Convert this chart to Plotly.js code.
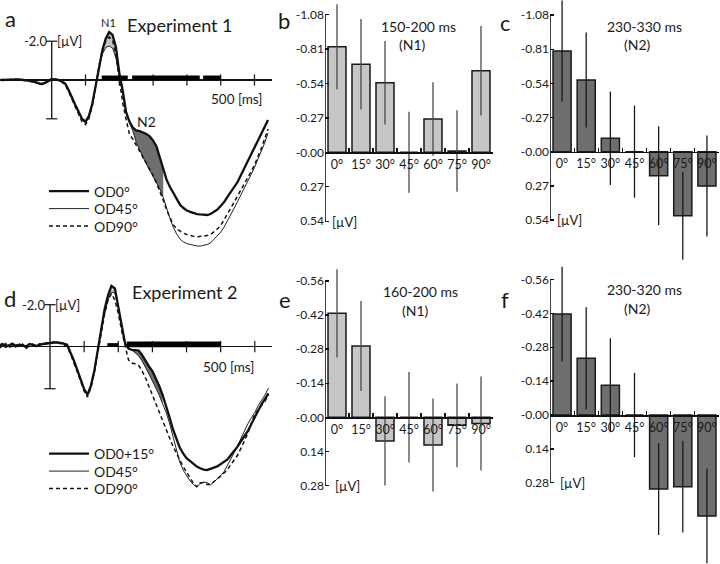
<!DOCTYPE html>
<html><head><meta charset="utf-8">
<script src="https://cdn.plot.ly/plotly-3.0.1.min.js"></script>
<style>html,body{margin:0;padding:0;background:#fff}#chart{width:720px;height:564px}</style>
</head><body><div id="chart"></div>
<script>
// ---------------- DATA ----------------
const time = [-150,-140,-130,-120,-110,-100,-90,-80,-70,-60,
  -50,-40,-30,-20,-10,0,10,20,30,40,
  50,60,70,80,90,100,110,120,130,140,
  150,160,170,180,190,200,210,220,230,240,
  250,260,270,280,290,300,310,320,330,340,
  350,360,370,380,390,400,410,420,430,440,
  450,460,470,480,490,500,510,520,530,540,
  550,560,570,580,590,600,610,620,630,640];

// Experiment 1 grand averages (µV, negative up)
const exp1OD0 = [0.00,-0.01,-0.02,-0.03,-0.03,-0.03,-0.02,0.00,0.03,0.05,
  0.10,0.17,0.21,0.15,0.08,-0.03,-0.03,0.00,0.08,0.18,
  0.52,0.93,1.29,1.65,2.01,2.15,1.86,1.24,0.26,-0.77,
  -1.55,-2.14,-2.47,-2.32,-1.70,-0.36,0.52,1.65,2.14,2.45,
  2.60,2.64,2.70,2.78,2.91,3.12,3.43,3.97,4.59,5.15,
  5.52,5.84,6.16,6.44,6.60,6.73,6.80,6.86,6.91,6.93,
  6.96,6.96,6.91,6.80,6.68,6.49,6.29,6.03,5.77,5.52,
  5.26,4.90,4.54,4.18,3.87,3.51,3.17,2.81,2.45,2.06];
const exp1OD45 = [0.02,0.00,-0.03,-0.04,-0.02,-0.01,0.00,0.02,0.05,0.08,
  0.13,0.20,0.24,0.18,0.06,-0.05,-0.04,0.02,0.11,0.22,
  0.55,0.97,1.33,1.70,2.06,2.20,1.92,1.30,0.33,-0.67,
  -1.34,-1.68,-1.75,-1.65,-1.13,-0.21,0.72,1.65,2.20,2.62,
  3.20,3.61,3.97,4.33,4.66,4.95,5.26,5.62,6.05,6.62,
  7.15,7.60,7.95,8.20,8.35,8.43,8.48,8.53,8.56,8.56,
  8.53,8.48,8.40,8.22,8.04,7.84,7.58,7.27,6.96,6.60,
  6.26,5.93,5.57,5.21,4.87,4.51,4.12,3.71,3.25,2.73];
const exp1OD90 = [-0.02,0.01,0.00,-0.02,-0.04,-0.02,0.01,0.03,0.04,0.07,
  0.12,0.18,0.20,0.12,0.03,-0.08,-0.07,-0.02,0.10,0.24,
  0.60,1.02,1.40,1.78,2.15,2.30,2.00,1.35,0.35,-0.72,
  -1.49,-2.01,-2.22,-2.06,-1.29,0.00,1.19,2.01,2.80,3.05,
  3.35,3.62,3.95,4.28,4.61,4.92,5.31,5.72,6.19,6.70,
  7.11,7.47,7.68,7.81,7.90,7.96,8.02,8.06,8.08,8.07,
  8.04,8.02,7.96,7.84,7.68,7.50,7.22,6.91,6.60,6.29,
  5.98,5.70,5.39,5.05,4.72,4.38,3.97,3.53,3.04,2.53];

// Experiment 2 grand averages
const exp2OD015 = [-0.03,-0.13,0.01,-0.08,-0.15,-0.03,-0.10,-0.06,-0.01,-0.13,
  -0.08,-0.03,-0.10,-0.13,-0.15,-0.18,-0.20,-0.20,-0.18,-0.15,
  -0.10,0.25,0.65,1.10,1.55,2.02,2.28,1.85,1.13,0.15,
  -0.95,-1.78,-2.45,-2.90,-2.78,-1.90,-0.95,-0.16,0.09,0.15,
  0.16,0.18,0.40,0.70,0.94,1.16,1.49,1.87,2.30,2.80,
  3.35,3.92,4.40,4.80,5.08,5.31,5.44,5.59,5.71,5.79,
  5.85,5.87,5.83,5.76,5.70,5.59,5.47,5.37,5.16,4.97,
  4.75,4.49,4.25,4.01,3.68,3.35,3.01,2.73,2.48,2.22];
const exp2OD45 = [0.05,-0.08,-0.18,0.02,-0.10,0.04,-0.14,-0.02,0.05,-0.08,
  -0.15,0.00,-0.05,-0.18,-0.12,-0.22,-0.16,-0.24,-0.14,-0.18,
  -0.05,0.30,0.70,1.15,1.60,2.08,2.33,1.90,1.18,0.20,
  -0.84,-1.60,-2.22,-2.60,-2.56,-1.89,-0.94,-0.18,0.09,0.16,
  0.30,0.44,0.68,0.97,1.30,1.63,1.97,2.30,2.73,3.11,
  3.63,4.30,4.97,5.49,5.87,6.16,6.39,6.56,6.67,6.52,
  6.45,6.47,6.58,6.45,6.30,6.14,5.95,5.66,5.33,5.03,
  4.70,4.33,3.95,3.66,3.38,3.14,2.80,2.55,2.30,1.97];
const exp2OD90 = [0.10,-0.05,-0.12,0.06,-0.06,-0.10,0.02,-0.12,0.08,-0.04,
  -0.10,-0.06,-0.14,-0.08,-0.20,-0.15,-0.22,-0.18,-0.20,-0.12,
  0.00,0.35,0.75,1.20,1.66,2.12,2.40,1.95,1.22,0.25,
  -0.80,-1.56,-2.22,-2.53,-2.22,-1.59,-0.75,0.01,0.63,0.78,
  0.82,0.90,1.16,1.49,1.90,2.30,2.68,3.11,3.56,3.97,
  4.35,4.73,5.06,5.40,5.70,5.97,6.25,6.50,6.67,6.49,
  6.47,6.56,6.56,6.44,6.32,6.16,6.01,5.85,5.61,5.40,
  5.16,4.82,4.49,4.11,3.63,3.20,3.01,2.80,2.59,2.30];

const timeTicks = [100,200,300,400,500,600];
const scaleBar = [-2, 2];
const sigExp1 = [[148,225],[238,438],[448,500]];
const sigExp2 = [[168,200],[225,500]];
const n1WinExp1 = [150,200], n2WinExp1 = [230,330];
const n1WinExp2 = [160,200], n2WinExp2 = [230,330];

// Bar panels
const angles = ["0°","15°","30°","45°","60°","75°","90°"];
const n1Exp1Mean = [-0.828,-0.690,-0.546,0.000,-0.261,-0.010,-0.640];
const n1Exp1Err  = [0.334,0.355,0.327,0.318,0.288,0.320,0.351];
const n2Exp1Mean = [-0.796,-0.567,-0.106,0.000,0.190,0.506,0.271];
const n2Exp1Err  = [0.400,0.375,0.369,0.364,0.391,0.348,0.400];
const n1Exp2Mean = [-0.427,-0.293,0.097,0.000,0.114,0.033,0.025];
const n1Exp2Err  = [0.181,0.185,0.183,0.186,0.191,0.172,0.193];
const n2Exp2Mean = [-0.417,-0.234,-0.123,0.000,0.306,0.296,0.417];
const n2Exp2Err  = [0.196,0.211,0.194,0.174,0.190,0.190,0.196];
const ticksExp1 = [-1.08,-0.81,-0.54,-0.27,0,0.27,0.54];
const tickTextExp1 = ["-1.08","-0.81","-0.54","-0.27","-0.00","0.27","0.54"];
const ticksExp2 = [-0.56,-0.42,-0.28,-0.14,0,0.14,0.28];
const tickTextExp2 = ["-0.56","-0.42","-0.28","-0.14","-0.00","0.14","0.28"];

// ---------------- LAYOUT HELPERS ----------------
const W = 720, H = 564;
const FONT = "Lato, 'Liberation Sans', sans-serif";
const TXT = "#1a1a1a";
function domX(a,b){return [a/W, b/W];}
function domY(a,b){return [1-b/H, 1-a/H];}
function rngY(py0,py1,zero,ppu){return [(py1-zero)/ppu, (py0-zero)/ppu];}
function rngX(px0,px1,zero,ppu){return [(px0-zero)/ppu, (px1-zero)/ppu];}
function P(x,y){return {x:x/W, y:1-y/H};}

const hidden = {showgrid:false, zeroline:false, showline:false, showticklabels:false, ticks:''};

const panels = {
  a:{xd:domX(0,272), xr:rngX(0,272,51.7,0.338), yd:domY(5,262), yr:rngY(5,262,80,19.4)},
  d:{xd:domX(0,272), xr:rngX(0,272,50,0.3413), yd:domY(268,520), yr:rngY(268,520,346.7,21)},
  b:{xd:domX(325,493), yd:domY(0,262), yr:rngY(0,262,152.3,127.5)},
  c:{xd:domX(550,719), yd:domY(0,262), yr:rngY(0,262,151.7,126.5)},
  e:{xd:domX(325,493), yd:domY(262,564), yr:rngY(262,564,417.3,243.5)},
  f:{xd:domX(550,719), yd:domY(262,564), yr:rngY(262,564,415,242)}
};
function zeroPos(p){return p.yd[0] + (0-p.yr[0])/(p.yr[1]-p.yr[0])*(p.yd[1]-p.yd[0]);}

// ---------------- TRACES ----------------
const traces = [];
function windowFill(t, upper, lower, win, color, xa, ya){
  const idx = t.map((v,i)=>i).filter(i=>t[i]>=win[0] && t[i]<=win[1]);
  const xs = idx.map(i=>t[i]);
  traces.push({x:xs, y:idx.map(i=>lower[i]), xaxis:xa, yaxis:ya, mode:'lines', line:{width:0, color:color}, showlegend:false, hoverinfo:'skip'});
  traces.push({x:xs, y:idx.map(i=>upper[i]), xaxis:xa, yaxis:ya, mode:'lines', line:{width:0, color:color}, fill:'tonexty', fillcolor:color, showlegend:false, hoverinfo:'skip'});
}
const LIGHT = '#c6c6c6', DARK = '#6e6e6e';
windowFill(time, exp1OD0, exp1OD45, n1WinExp1, LIGHT, 'x', 'y');
windowFill(time, exp1OD0, exp1OD45, n2WinExp1, DARK, 'x', 'y');
windowFill(time, exp2OD015, exp2OD45, n1WinExp2, LIGHT, 'x4', 'y4');
windowFill(time, exp2OD015, exp2OD45, n2WinExp2, DARK, 'x4', 'y4');

function erp(y, name, style, xa, ya, leg){
  traces.push({x:time, y:y, name:name, xaxis:xa, yaxis:ya, mode:'lines', line:style, legend:leg, hoverinfo:'skip'});
}
const thin = {color:'#222', width:1};
const dashed = {color:'#111', width:1.5, dash:'4px,3px'};
const thick = {color:'#111', width:2.3};
// one legend per entry so the entry spacing can follow the reference
erp(exp1OD45, 'OD45°', thin, 'x', 'y', 'legend2');
erp(exp1OD90, 'OD90°', dashed, 'x', 'y', 'legend3');
erp(exp1OD0, 'OD0°', thick, 'x', 'y', 'legend');
erp(exp2OD45, 'OD45°', thin, 'x4', 'y4', 'legend5');
erp(exp2OD90, 'OD90°', dashed, 'x4', 'y4', 'legend6');
erp(exp2OD015, 'OD0+15°', thick, 'x4', 'y4', 'legend4');

// time axis tick marks and scale bar caps
[['x','y'],['x4','y4']].forEach(([xa,ya])=>{
  traces.push({x:timeTicks, y:timeTicks.map(()=>0), xaxis:xa, yaxis:ya, mode:'markers',
    marker:{symbol:'line-ns', size:8, line:{width:1.2, color:'#111'}}, showlegend:false, hoverinfo:'skip'});
  traces.push({x:scaleBar.map(()=>0), y:scaleBar, xaxis:xa, yaxis:ya, mode:'markers',
    marker:{symbol:'line-ew', size:8, line:{width:1.2, color:'#111'}}, showlegend:false, hoverinfo:'skip'});
});

function bars(mean, err, fill, errColor, xa, ya){
  traces.push({type:'bar', x:angles, y:mean, xaxis:xa, yaxis:ya,
    marker:{color:fill, line:{color:'#1a1a1a', width:1.5}},
    error_y:{type:'data', array:err, visible:true, color:errColor, thickness:1.3, width:0},
    showlegend:false, hoverinfo:'skip'});
}
bars(n1Exp1Mean, n1Exp1Err, LIGHT, '#4a4a4a', 'x2', 'y2');
bars(n2Exp1Mean, n2Exp1Err, DARK, '#1a1a1a', 'x3', 'y3');
bars(n1Exp2Mean, n1Exp2Err, LIGHT, '#4a4a4a', 'x5', 'y5');
bars(n2Exp2Mean, n2Exp2Err, DARK, '#1a1a1a', 'x6', 'y6');

// ---------------- SHAPES ----------------
const shapes = [];
sigExp1.forEach(s=>shapes.push({type:'rect', xref:'x', yref:'y', x0:s[0], x1:s[1], y0:0, y1:-0.23, fillcolor:'#000', line:{width:0}}));
shapes.push({type:'rect', xref:'x4', yref:'y4', x0:sigExp2[0][0], x1:sigExp2[0][1], y0:0, y1:-0.17, fillcolor:'#000', line:{width:0}});
shapes.push({type:'rect', xref:'x4', yref:'y4', x0:sigExp2[1][0], x1:sigExp2[1][1], y0:0.03, y1:-0.25, fillcolor:'#000', line:{width:0}});
[['x','y'],['x4','y4']].forEach(([xa,ya])=>{
  shapes.push({type:'line', xref:xa, yref:ya, x0:0, x1:0, y0:scaleBar[0], y1:scaleBar[1], line:{color:'#111', width:1.3}});
});
[['x2','y2',ticksExp1],['x3','y3',ticksExp1],['x5','y5',ticksExp2],['x6','y6',ticksExp2]].forEach(([xa,ya,tk])=>{
  shapes.push({type:'line', xref:xa, yref:ya, x0:-0.5, x1:-0.5, y0:tk[0], y1:tk[tk.length-1], line:{color:'#111', width:1.6}});
});

// ---------------- LAYOUT ----------------
const layout = {
  width:W, height:H, margin:{l:0,r:0,t:0,b:0,pad:0},
  paper_bgcolor:'#fff', plot_bgcolor:'rgba(0,0,0,0)',
  font:{family:FONT, color:TXT, size:12},
  showlegend:true, hovermode:false, bargap:0.25,
  shapes:shapes
};
function legendAt(key, topPx){
  layout[key] = {x:44/W, y:1-topPx/H, xanchor:'left', yanchor:'top', bgcolor:'rgba(0,0,0,0)', borderwidth:0,
    font:{family:FONT, size:14, color:TXT}, itemwidth:40};
}
legendAt('legend', 175.5); legendAt('legend2', 193); legendAt('legend3', 210.5);
legendAt('legend4', 438); legendAt('legend5', 455.5); legendAt('legend6', 473);

layout.xaxis = Object.assign({}, hidden, {domain:panels.a.xd, range:panels.a.xr, anchor:'y'});
layout.yaxis = Object.assign({}, hidden, {domain:panels.a.yd, range:panels.a.yr, anchor:'x', zeroline:true, zerolinecolor:'#111', zerolinewidth:1.3});
layout.xaxis4 = Object.assign({}, hidden, {domain:panels.d.xd, range:panels.d.xr, anchor:'y4'});
layout.yaxis4 = Object.assign({}, hidden, {domain:panels.d.yd, range:panels.d.yr, anchor:'x4', zeroline:true, zerolinecolor:'#111', zerolinewidth:1.3});

function barAxes(n, p, tv, tt){
  layout['xaxis'+n] = {domain:p.xd, range:[-0.5,6.5], type:'category', categoryorder:'array', categoryarray:angles,
    anchor:'free', position:zeroPos(p), showline:true, linecolor:'#111', linewidth:1.5,
    ticks:'inside', tickson:'boundaries', ticklen:4, tickwidth:1.2, tickcolor:'#111', tickangle:0,
    showgrid:false, zeroline:false, tickfont:{family:FONT, size:12.5, color:TXT}};
  layout['yaxis'+n] = {domain:p.yd, range:p.yr, anchor:'x'+n, showline:false, showgrid:false, zeroline:false,
    ticks:'inside', ticklen:4, tickwidth:1.3, tickcolor:'#111', tickmode:'array', tickvals:tv, ticktext:tt,
    tickfont:{family:FONT, size:12, color:TXT}};
}
barAxes(2, panels.b, ticksExp1, tickTextExp1);
barAxes(3, panels.c, ticksExp1, tickTextExp1);
barAxes(5, panels.e, ticksExp2, tickTextExp2);
barAxes(6, panels.f, ticksExp2, tickTextExp2);

// ---------------- ANNOTATIONS ----------------
const ann = [];
function A(text, x, y, size, extra){
  ann.push(Object.assign({text:text, x:P(x,y).x, y:P(x,y).y, xref:'paper', yref:'paper', showarrow:false,
    xanchor:'center', yanchor:'middle', font:{family:FONT, size:size, color:TXT}}, extra||{}));
}
A('a', 10, 19, 22); A('b', 284, 20, 22); A('c', 506, 22, 22);
A('d', 10, 298, 22); A('e', 285, 299, 22); A('f', 505, 299, 22);
A('Experiment 1', 180, 25, 18); A('Experiment 2', 185, 292, 18);
A('N1', 108, 22, 11); A('N2', 146, 121, 14);
A('150-200 ms', 418, 26, 14); A('(N1)', 412, 44, 14);
A('230-330 ms', 644, 26, 14); A('(N2)', 637, 44, 14);
A('160-200 ms', 420, 291, 14); A('(N1)', 416, 310, 14);
A('230-320 ms', 644, 289, 14); A('(N2)', 637, 308, 14);
A('[µV]', 344, 222, 13); A('[µV]', 569, 220, 13);
A('[µV]', 347, 486, 13); A('[µV]', 572, 483, 13);
A('500 [ms]', 236, 99, 13.5); A('500 [ms]', 228, 367, 13.5);
[['x','y'],['x4','y4']].forEach(([xa,ya])=>{
  ann.push({text:'-2.0', x:0, y:scaleBar[0], xref:xa, yref:ya, showarrow:false, xanchor:'right', yanchor:'middle', xshift:-3, font:{family:FONT, size:13, color:TXT}});
  ann.push({text:'[µV]', x:0, y:scaleBar[0], xref:xa, yref:ya, showarrow:false, xanchor:'left', yanchor:'middle', xshift:3, font:{family:FONT, size:13, color:TXT}});
});
layout.annotations = ann;

Plotly.newPlot('chart', traces, layout, {staticPlot:true, displayModeBar:false});
</script></body></html>
